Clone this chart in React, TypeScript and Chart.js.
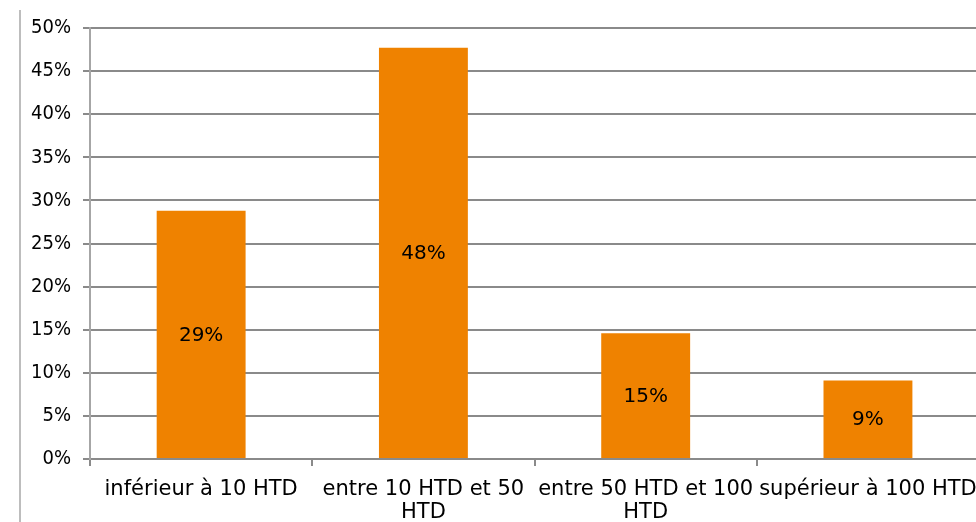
import { useEffect, useRef } from "react";
import { Chart, registerables } from "chart.js";

Chart.register(...registerables);

// Répartition par tranche de montant
const categories: (string | string[])[] = [
  "inférieur à 10 HTD",
  ["entre 10 HTD et 50", "HTD"],
  ["entre 50 HTD et 100", "HTD"],
  "supérieur à 100 HTD",
];
const shares = [28.8, 47.7, 14.6, 9.1];
const yTicks = [0, 5, 10, 15, 20, 25, 30, 35, 40, 45, 50];

const ORANGE = "#ef8200";
const GRID = "#8a8a8a";
const FONT = "'DejaVu Sans', Tahoma, sans-serif";
const FONT_NARROW = "'DejaVu Sans Condensed', 'DejaVu Sans', sans-serif";

const W = 990;
const H = 522;

const valueLabels = {
  id: "valueLabels",
  afterDatasetsDraw(chart: Chart) {
    const { ctx } = chart;
    const meta = chart.getDatasetMeta(0);
    const data = chart.data.datasets[0].data as number[];
    ctx.save();
    ctx.fillStyle = "#000";
    ctx.font = `20px ${FONT}`;
    ctx.textAlign = "center";
    ctx.textBaseline = "middle";
    meta.data.forEach((el: any, i: number) => {
      const mid = (el.y + el.base) / 2;
      ctx.fillText(`${Math.round(data[i])}%`, el.x, mid + 1);
    });
    ctx.restore();
  },
};

export default function App() {
  const ref = useRef<HTMLCanvasElement>(null);

  useEffect(() => {
    if (!ref.current) return;
    const chart = new Chart(ref.current, {
      type: "bar",
      data: {
        labels: categories,
        datasets: [
          {
            data: shares,
            backgroundColor: ORANGE,
            borderWidth: 0,
            categoryPercentage: 1,
            barPercentage: 0.4,
          },
        ],
      },
      plugins: [valueLabels],
      options: {
        animation: false,
        responsive: false,
        maintainAspectRatio: false,
        layout: { padding: { left: 0, right: 10, top: 28, bottom: 0 } },
        plugins: {
          legend: { display: false },
          tooltip: { enabled: false },
          title: { display: false },
        },
        scales: {
          x: {
            grid: {
              display: true,
              offset: true,
              drawOnChartArea: false,
              color: GRID,
              lineWidth: 2,
              tickLength: 7,
            },
            border: { display: true, color: GRID, width: 2 },
            ticks: {
              color: "#000",
              font: { family: FONT, size: 21, lineHeight: 1.1 },
              padding: 12,
              maxRotation: 0,
              autoSkip: false,
            },
            afterFit(scale: any) {
              scale.height = H - 459;
            },
          },
          y: {
            min: 0,
            max: 50,
            afterBuildTicks(scale: any) {
              scale.ticks = yTicks.map((v) => ({ value: v }));
            },
            grid: {
              color: GRID,
              lineWidth: 2,
              tickLength: 7,
            },
            border: { display: true, color: "#a6a6a6", width: 2 },
            ticks: {
              color: "#000",
              font: { family: FONT_NARROW, size: 20 },
              padding: 12,
              callback: (v: any) => `${v}%`,
            },
            afterFit(scale: any) {
              scale.width = 90;
            },
          },
        },
      },
    });
    return () => chart.destroy();
  }, []);

  return (
    <div
      style={{
        position: "fixed",
        left: 0,
        top: 0,
        width: 976,
        height: 522,
        overflow: "hidden",
        background: "#fff",
      }}
    >
      <div
        style={{
          position: "absolute",
          left: 19,
          top: 10,
          width: 0,
          height: 520,
          borderLeft: "2px solid #bdbdbd",
        }}
      />
      <canvas
        ref={ref}
        width={W}
        height={H}
        style={{ position: "absolute", left: 0, top: 0, width: W, height: H }}
      />
    </div>
  );
}
